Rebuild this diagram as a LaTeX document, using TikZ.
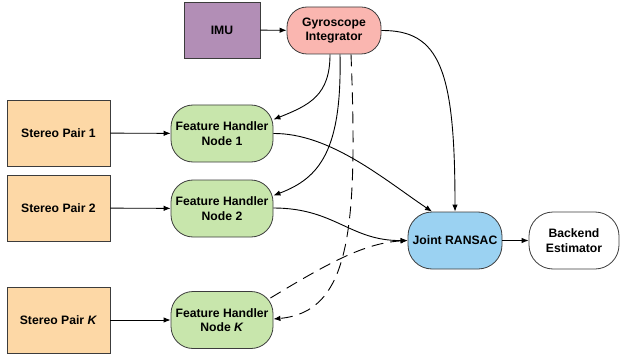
\documentclass[tikz,border=0pt]{standalone}
\usepackage{fontspec}
\setmainfont{Liberation Sans}
\usetikzlibrary{arrows.meta}
\definecolor{imuc}{RGB}{178,142,182}
\definecolor{gyroc}{RGB}{250,182,176}
\definecolor{stereoc}{RGB}{253,216,166}
\definecolor{fhc}{RGB}{200,230,172}
\definecolor{jointc}{RGB}{155,210,242}
\definecolor{bordc}{RGB}{60,60,60}
\tikzset{
  box/.style={draw=bordc, line width=0.8pt, inner sep=0pt, align=center, font=\fontsize{12.2}{14.5}\selectfont\bfseries},
  sq/.style={box, minimum width=103pt, minimum height=66pt, fill=stereoc},
  rnd/.style={box, rounded corners=22pt},
  conn/.style={line width=0.9pt, -{Latex[length=7pt,width=5.5pt]}},
  dconn/.style={conn, dash pattern=on 12pt off 7pt}
}
\begin{document}
\begin{tikzpicture}[x=1pt,y=-1pt]
\useasboundingbox (0,0) rectangle (620,358);
\node[box, fill=imuc, minimum width=76pt, minimum height=56pt] (imu) at (222,30) {IMU};
\node[rnd, fill=gyroc, minimum width=94pt, minimum height=47pt, rounded corners=20pt] (gyro) at (334,30.5) {Gyroscope\\Integrator};
\node[sq] (sp1) at (58.5,133) {Stereo Pair 1};
\node[sq] (sp2) at (58.5,208) {Stereo Pair 2};
\node[sq] (spk) at (58.5,320) {Stereo Pair \textit{K}};
\node[rnd, fill=fhc, minimum width=102pt, minimum height=57pt] (fh1) at (222,133.5) {Feature Handler\\Node 1};
\node[rnd, fill=fhc, minimum width=102pt, minimum height=57pt] (fh2) at (222,208.5) {Feature Handler\\Node 2};
\node[rnd, fill=fhc, minimum width=102pt, minimum height=57pt] (fhk) at (222,320) {Feature Handler\\Node \textit{K}};
\node[rnd, fill=jointc, minimum width=94pt, minimum height=57pt, rounded corners=24pt] (joint) at (455,240.5) {Joint RANSAC};
\node[rnd, fill=white, minimum width=90pt, minimum height=57pt, rounded corners=24pt] (back) at (574,240.5) {Backend\\Estimator};

\draw[conn] (imu) -- (gyro);
\draw[conn] (sp1) -- (fh1);
\draw[conn] (sp2) -- (fh2);
\draw[conn] (spk) -- (fhk);
\draw[conn] (joint) -- (back);

\draw[conn] (gyro.east) .. controls (440,30) and (455,70) .. (joint.north);
\draw[conn] ([xshift=-4pt]gyro.south) .. controls (330,95) and (310,105) .. ([yshift=14pt]fh1.east);
\draw[conn] ([xshift=6pt]gyro.south) .. controls (342,150) and (320,178) .. ([yshift=13pt]fh2.east);
\draw[dconn] ([xshift=17pt]gyro.south) .. controls (358,230) and (350,312) .. ([yshift=1pt]fhk.east);
\draw[conn] (fh1.east) .. controls (330,133) and (385,180) .. ([xshift=-23pt]joint.north);
\draw[conn] ([yshift=0.5pt]fh2.east) .. controls (335,208) and (350,241) .. (joint.west);
\draw[dconn] ([xshift=-3pt,yshift=22pt]fhk.east) .. controls (330,262) and (365,243) .. (joint.west);
\end{tikzpicture}
\end{document}
